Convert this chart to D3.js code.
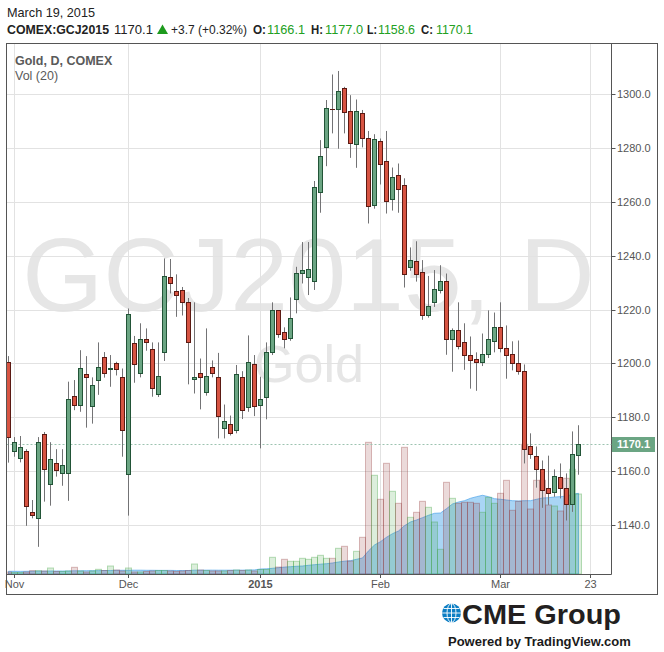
<!DOCTYPE html>
<html><head><meta charset="utf-8">
<script src="https://cdn.jsdelivr.net/npm/d3@7"></script>
<style>
html,body{margin:0;padding:0;background:#fff;}
svg{display:block;font-family:"Liberation Sans",Arial,sans-serif;}
</style></head>
<body>
<svg id="chart" width="664" height="652"></svg>
<script>
// ---- DATA ----
const dates = ["2014-10-31",
"2014-11-03","2014-11-04","2014-11-05","2014-11-06","2014-11-07","2014-11-10","2014-11-11","2014-11-12","2014-11-13","2014-11-14",
"2014-11-17","2014-11-18","2014-11-19","2014-11-20","2014-11-21","2014-11-24","2014-11-25","2014-11-26","2014-11-28",
"2014-12-01","2014-12-02","2014-12-03","2014-12-04","2014-12-05","2014-12-08","2014-12-09","2014-12-10","2014-12-11","2014-12-12",
"2014-12-15","2014-12-16","2014-12-17","2014-12-18","2014-12-19","2014-12-22","2014-12-23","2014-12-24","2014-12-26","2014-12-29","2014-12-30","2014-12-31",
"2015-01-02","2015-01-05","2015-01-06","2015-01-07","2015-01-08","2015-01-09","2015-01-12","2015-01-13","2015-01-14","2015-01-15","2015-01-16",
"2015-01-20","2015-01-21","2015-01-22","2015-01-23","2015-01-26","2015-01-27","2015-01-28","2015-01-29","2015-01-30",
"2015-02-02","2015-02-03","2015-02-04","2015-02-05","2015-02-06","2015-02-09","2015-02-10","2015-02-11","2015-02-12","2015-02-13",
"2015-02-16","2015-02-17","2015-02-18","2015-02-19","2015-02-20","2015-02-23","2015-02-24","2015-02-25","2015-02-26","2015-02-27",
"2015-03-02","2015-03-03","2015-03-04","2015-03-05","2015-03-06","2015-03-09","2015-03-10","2015-03-11","2015-03-12","2015-03-13",
"2015-03-16","2015-03-17","2015-03-18","2015-03-19"];

const open = [1200.4,
1167.6,1164.7,1167.6,1144.6,1142.4,1173.6,1155.0,1162.8,1159.1,1159.1,1187.7,1184.7,1195.9,1184.0,1193.7,1202.2,1198.0,1200.0,1194.8,
1158.7,1207.4,1196.3,1208.9,1205.2,1188.5,1204.1,1232.0,1226.8,1227.2,1223.0,1194.1,1196.6,1189.2,1198.5,1194.8,1175.8,1177.3,1175.4,1194.8,1183.9,1199.6,
1184.7,1187.4,1204.3,1219.7,1211.8,1209.3,1223.8,1233.5,1232.2,1230.5,1263.6,1280.3,1294.6,1294.4,1302.2,1293.7,1281.4,1292.9,1283.6,1258.7,
1282.5,1275.1,1261.0,1269.9,1266.2,1235.7,1237.9,1233.8,1217.8,1222.7,1227.1,1230.5,1208.9,1212.3,1207.8,1203.0,1201.5,1200.4,1203.3,1208.5,
1213.4,1205.6,1203.3,1200.0,1197.0,1169.1,1165.4,1160.6,1153.5,1152.0,1157.6,1153.5,1147.9,1166.1];

const high = [1202.7,
1172.6,1173.0,1168.1,1149.2,1172.6,1174.5,1170.7,1168.1,1168.1,1193.2,1193.8,1204.9,1202.7,1194.8,1207.8,1204.2,1203.1,1200.6,1198.1,
1220.4,1210.2,1214.9,1213.0,1207.8,1207.8,1239.0,1238.8,1233.1,1228.4,1224.3,1222.7,1201.8,1213.0,1201.1,1203.9,1184.7,1180.6,1199.4,1197.1,1210.4,1203.1,
1195.0,1207.8,1222.7,1219.8,1213.4,1224.5,1235.9,1245.1,1245.1,1267.8,1283.0,1297.9,1307.4,1308.7,1302.8,1299.7,1298.1,1294.2,1286.4,1285.2,
1283.6,1286.4,1272.8,1274.3,1268.8,1243.1,1245.4,1238.4,1232.5,1234.7,1236.5,1233.4,1213.0,1222.7,1214.9,1210.0,1204.1,1211.1,1219.7,1218.9,
1222.7,1214.1,1208.2,1208.5,1199.6,1174.0,1169.1,1163.9,1165.7,1160.6,1162.8,1159.1,1174.7,1177.0];

const low = [1163.1,
1165.3,1163.2,1139.6,1142.4,1131.8,1148.6,1147.1,1157.9,1154.5,1148.9,1182.6,1182.0,1176.1,1177.6,1188.3,1194.7,1191.3,1195.5,1165.3,
1143.4,1192.8,1194.8,1204.7,1187.6,1187.5,1200.9,1226.0,1217.3,1217.8,1192.2,1188.8,1182.9,1188.0,1194.8,1172.1,1172.1,1173.2,1174.0,1179.3,1182.0,1180.4,
1168.4,1179.2,1203.1,1209.5,1205.6,1208.4,1218.6,1229.7,1225.4,1227.3,1256.0,1273.3,1285.5,1279.8,1285.5,1276.4,1272.7,1280.3,1252.0,1257.5,
1266.5,1255.7,1256.8,1256.0,1228.2,1234.4,1230.4,1216.2,1217.0,1221.0,1226.0,1203.2,1196.9,1205.2,1197.6,1190.6,1189.8,1199.0,1202.0,1204.1,
1204.1,1194.3,1197.4,1195.8,1162.8,1164.5,1153.8,1146.3,1147.4,1150.4,1149.8,1141.6,1144.8,1158.6];

const close = [1172.6,
1170.6,1168.8,1146.8,1143.5,1170.6,1160.9,1164.3,1160.2,1162.4,1186.6,1184.4,1198.1,1194.8,1191.8,1198.5,1196.6,1198.1,1197.8,1175.4,
1218.2,1199.6,1208.9,1207.8,1190.7,1195.2,1232.3,1229.7,1225.6,1222.7,1207.8,1194.8,1194.8,1195.2,1196.3,1180.3,1178.4,1174.0,1196.0,1182.6,1200.6,1184.2,
1186.6,1204.3,1219.7,1211.1,1208.9,1216.7,1233.5,1234.8,1234.9,1265.4,1277.2,1294.8,1294.4,1301.1,1293.3,1282.1,1293.7,1283.6,1258.5,1283.3,
1274.0,1260.3,1269.1,1264.7,1233.1,1238.3,1233.4,1217.8,1221.2,1227.5,1230.5,1208.9,1212.3,1206.3,1203.0,1201.1,1200.4,1203.3,1208.9,1213.4,
1205.6,1203.0,1200.0,1197.0,1168.0,1166.2,1160.6,1153.1,1151.7,1158.0,1153.5,1147.6,1166.4,1170.1];

// volume, thousands of contracts
const volume = [3.2,
2.4,2.4,3.2,5.3,5.3,4.8,9.6,4.0,4.0,4.8,10.7,4.8,3.2,4.8,7.5,5.6,12.8,6.4,4.8,
9.6,3.2,3.2,4.0,4.8,5.6,5.6,4.8,4.0,4.8,5.6,16.0,6.4,5.6,4.8,4.8,4.8,5.6,6.4,5.6,6.4,4.8,
7.2,7.2,26.7,11.2,23.5,20.3,20.3,25.1,23.5,26.7,29.9,25.1,25.1,41.1,44.3,20.8,36.3,58.7,210.7,157.9,
119.5,177.1,132.3,113.1,202.7,90.7,98.7,116.3,106.7,83.2,39.5,146.7,121.1,113.1,114.7,114.7,113.1,98.7,122.7,113.1,
129.1,149.9,101.9,116.3,207.5,104.0,149.9,149.9,110.4,108.8,100.8,153.1,167.5,128.0];

// Vol (20) moving average as drawn
const volMA = [4.3,
4.3,4.2,4.3,4.5,4.6,4.6,4.8,4.8,4.8,4.9,5.1,5.1,5.3,5.3,5.4,5.6,5.6,5.9,5.9,
5.9,6.1,6.1,5.9,5.9,5.8,5.8,5.8,5.6,5.6,5.6,6.1,6.1,6.2,6.2,6.1,6.1,6.1,6.2,6.2,6.4,6.6,
8.0,8.3,9.1,10.1,11.0,11.7,12.3,12.8,13.9,14.9,15.7,16.5,17.6,19.2,20.5,21.3,23.5,25.6,37.0,46.4,
51.7,58.7,64.5,68.8,77.3,83.2,86.4,90.1,93.9,97.1,97.6,104.5,112.0,115.2,117.3,121.1,123.7,125.9,123.7,120.5,
119.5,118.4,117.3,116.8,117.3,117.3,119.5,121.6,122.1,123.2,123.7,124.8,127.5,129.1];

const priceTicks = [1140,1160,1180,1200,1220,1240,1260,1280,1300];
const timeTickIndex = [1,20,42,62,82,97];
const timeTickLabels = ["Nov","Dec","2015","Feb","Mar","23"];
const timeTickBold = [false,false,true,false,false,false];
const lastClose = 1170.1;

// ---- LAYOUT ----
const svg = d3.select("#chart");
const plot = {l:6.5, t:43, r:611.5, b:574};
const outer = {r:657.5, b:594.5};

const x = d3.scaleLinear().domain([0, dates.length-1]).range([8, 8 + 6*(dates.length-1)]);
const y = d3.scaleLinear().domain([1121.7, 1319.1]).range([574, 43]);
const vy = d3.scaleLinear().domain([0, 210.7]).range([574, 442.3]);

const bars = dates.map((d,i)=>({d,i,o:open[i],h:high[i],l:low[i],c:close[i],v:volume[i],ma:volMA[i]}));

svg.append("defs").append("clipPath").attr("id","clip")
  .append("rect").attr("x",7).attr("y",43).attr("width",604).attr("height",531);

// watermark
const wm = svg.append("g").attr("fill","#e6e6e6").attr("text-anchor","middle").attr("font-family","'Liberation Sans',Arial,sans-serif");
wm.append("text").attr("x",308.5).attr("y",310.5).attr("font-size",104).text("GCJ2015, D");
wm.append("text").attr("x",309).attr("y",381.5).attr("font-size",52).text("Gold");

// grid
const grid = svg.append("g").attr("stroke","#e2e2e2").attr("stroke-width",1);
grid.selectAll("line.h").data(priceTicks).join("line")
  .attr("x1",plot.l).attr("x2",plot.r)
  .attr("y1",d=>Math.round(y(d))+0.5).attr("y2",d=>Math.round(y(d))+0.5);
grid.selectAll("line.v").data(timeTickIndex).join("line")
  .attr("y1",plot.t).attr("y2",plot.b)
  .attr("x1",d=>x(d)+0.5).attr("x2",d=>x(d)+0.5);

const g = svg.append("g").attr("clip-path","url(#clip)");

// volume MA area
const area = d3.area().x(d=>x(d.i)+0.5).y0(574).y1(d=>vy(d.ma));
g.append("path").datum(bars).attr("d",area)
  .attr("fill","rgba(99,179,237,0.55)")
  .attr("stroke","rgba(80,165,235,0.7)").attr("stroke-width",1);

// volume bars
g.selectAll("rect.vol").data(bars).join("rect")
  .attr("x",d=>x(d.i)-2.5).attr("width",6)
  .attr("y",d=>vy(d.v)).attr("height",d=>574-vy(d.v))
  .attr("fill",d=>d.c>=d.o ? "rgba(60,160,60,0.18)" : "rgba(144,49,49,0.18)")
  .attr("stroke",d=>d.c>=d.o ? "rgba(60,160,60,0.35)" : "rgba(144,49,49,0.32)")
  .attr("stroke-width",1);

// last price dashed line
g.append("line").attr("x1",plot.l).attr("x2",plot.r)
  .attr("y1",Math.round(y(lastClose))+0.5).attr("y2",Math.round(y(lastClose))+0.5)
  .attr("stroke","#9cc3b0").attr("stroke-dasharray","2,2");

// wicks
g.selectAll("line.wick").data(bars).join("line")
  .attr("x1",d=>x(d.i)+0.5).attr("x2",d=>x(d.i)+0.5)
  .attr("y1",d=>y(d.h)).attr("y2",d=>y(d.l))
  .attr("stroke","#737375").attr("stroke-width",1);

// bodies
g.selectAll("rect.body").data(bars).join("rect")
  .attr("x",d=>x(d.i)-1.5).attr("width",4)
  .attr("y",d=>Math.round(y(Math.max(d.o,d.c)))+0.5)
  .attr("height",d=>Math.max(0.01, Math.round(y(Math.min(d.o,d.c))) - Math.round(y(Math.max(d.o,d.c)))))
  .attr("fill",d=>d.c>=d.o ? "#6ba583" : "#d75442")
  .attr("stroke",d=>d.c>=d.o ? "#225437" : "#5b1a13")
  .attr("stroke-width",1);

// frames
const fr = svg.append("g").attr("stroke","#555").attr("stroke-width",1).attr("fill","none");
fr.append("rect").attr("x",plot.l).attr("y",plot.t+0.5).attr("width",outer.r-plot.l).attr("height",outer.b-plot.t-0.5);
fr.append("line").attr("x1",plot.l).attr("x2",plot.r).attr("y1",plot.b+0.5).attr("y2",plot.b+0.5);
fr.append("line").attr("x1",plot.r).attr("x2",plot.r).attr("y1",plot.t).attr("y2",plot.b+0.5);

// price axis
const ya = svg.append("g");
ya.selectAll("line").data(priceTicks).join("line")
  .attr("x1",plot.r).attr("x2",plot.r+4)
  .attr("y1",d=>Math.round(y(d))+0.5).attr("y2",d=>Math.round(y(d))+0.5)
  .attr("stroke","#555");
ya.selectAll("text").data(priceTicks).join("text")
  .attr("x",617).attr("y",d=>y(d)).attr("dy","0.36em")
  .attr("font-size",11).attr("fill","#555")
  .text(d=>d3.format(".1f")(d));

// last price label
const ly = Math.round(y(lastClose));
svg.append("rect").attr("x",612).attr("y",ly-7).attr("width",43).attr("height",15).attr("fill","#6ba583");
svg.append("line").attr("x1",plot.r).attr("x2",plot.r+4).attr("y1",ly+0.5).attr("y2",ly+0.5).attr("stroke","#6ba583");
svg.append("text").attr("x",617).attr("y",ly+0.5).attr("dy","0.36em").attr("font-size",11).attr("font-weight","bold")
  .attr("fill","#fff").text(d3.format(".1f")(lastClose));

// time axis
const xa = svg.append("g");
xa.selectAll("line").data(timeTickIndex).join("line")
  .attr("x1",d=>x(d)+0.5).attr("x2",d=>x(d)+0.5).attr("y1",574).attr("y2",578)
  .attr("stroke","#555");
xa.selectAll("text").data(timeTickIndex).join("text")
  .attr("x",d=>x(d)+0.5).attr("y",588).attr("text-anchor","middle")
  .attr("font-size",11).attr("fill","#555")
  .attr("font-weight",(d,i)=>timeTickBold[i]?"bold":"normal")
  .text((d,i)=>timeTickLabels[i]);

// in-chart legend
svg.append("text").attr("x",15).attr("y",65).attr("font-size",12.5).attr("font-weight","bold").attr("fill","#5a5a5a").text("Gold, D, COMEX");
svg.append("text").attr("x",15).attr("y",80).attr("font-size",12.5).attr("fill","#5a5a5a").text("Vol (20)");

// header
const green = "#22a022";
svg.append("text").attr("x",7).attr("y",16.5).attr("font-size",13).attr("fill","#222")
  .attr("textLength",88).attr("lengthAdjust","spacingAndGlyphs").text("March 19, 2015");
const hdr = [
  {x:7, t:"COMEX:GCJ2015", b:true, c:"#222", w:102},
  {x:114, t:"1170.1", b:false, c:"#222", w:39},
  {x:171, t:"+3.7 (+0.32%)", b:false, c:"#222", w:76},
  {x:253, t:"O:", b:true, c:"#222", w:13},
  {x:267, t:"1166.1", b:false, c:green, w:38},
  {x:311, t:"H:", b:true, c:"#222", w:12},
  {x:325, t:"1177.0", b:false, c:green, w:38},
  {x:367, t:"L:", b:true, c:"#222", w:10},
  {x:378, t:"1158.6", b:false, c:green, w:37},
  {x:421, t:"C:", b:true, c:"#222", w:12},
  {x:436, t:"1170.1", b:false, c:green, w:37}
];
svg.selectAll("text.hdr").data(hdr).join("text").attr("class","hdr")
  .attr("x",d=>d.x).attr("y",34).attr("font-size",13)
  .attr("textLength",d=>d.w).attr("lengthAdjust","spacingAndGlyphs")
  .attr("font-weight",d=>d.b?"bold":"normal").attr("fill",d=>d.c).text(d=>d.t);
svg.append("path").attr("d","M157,34 L168,34 L162.5,24.5 Z").attr("fill","#1d9a1d");

// CME logo
const logo = svg.append("g");
logo.append("circle").attr("cx",451.5).attr("cy",613).attr("r",9.5).attr("fill","#0b7dc3");
const gl = logo.append("g").attr("stroke","#fff").attr("stroke-width",0.9).attr("fill","none");
gl.append("line").attr("x1",442).attr("x2",461).attr("y1",613).attr("y2",613);
gl.append("line").attr("x1",443.5).attr("x2",459.5).attr("y1",608.5).attr("y2",608.5);
gl.append("line").attr("x1",443.5).attr("x2",459.5).attr("y1",617.5).attr("y2",617.5);
gl.append("line").attr("x1",451.5).attr("x2",451.5).attr("y1",603.5).attr("y2",622.5);
gl.append("ellipse").attr("cx",451.5).attr("cy",613).attr("rx",4.5).attr("ry",9.5);
logo.append("text").attr("x",462).attr("y",623.5).attr("font-size",27).attr("font-weight","bold")
  .attr("fill","#231f20").attr("textLength",159).attr("lengthAdjust","spacingAndGlyphs").text("CME Group");
logo.append("text").attr("x",448).attr("y",646).attr("font-size",13).attr("font-weight","bold")
  .attr("fill","#1a1a1a").text("Powered by TradingView.com");
</script>
</body></html>
